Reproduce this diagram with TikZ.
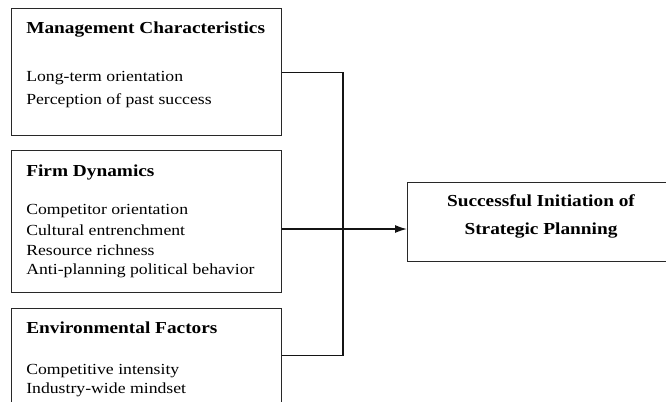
\documentclass[tikz,border=0pt]{standalone}
\usepackage{fontspec}
\setmainfont{Liberation Serif}[FakeStretch=1.15]
\usetikzlibrary{arrows.meta}
\begin{document}
\begin{tikzpicture}[x=0.75pt,y=0.75pt,yscale=-1,xscale=1,
	box/.style={draw={rgb, 255:red, 40; green, 40; blue, 40 },line width=1.1pt,anchor=north west,inner sep=0pt},
	head/.style={anchor=base west,inner sep=0.75pt,font=\fontsize{12.6}{14}\selectfont\bfseries},
	item/.style={anchor=base west,inner sep=0.75pt,font=\fontsize{11.55}{13}\selectfont},
	link/.style={draw={rgb, 255:red, 20; green, 20; blue, 20 },line width=1.1pt}]
	\useasboundingbox (0,0) rectangle (666,401);
	
	%Shape: Rectangle [id:mgmt] 
	\node [box,minimum width=270*0.75pt,minimum height=127*0.75pt] (mgmt) at (11,8) {};
	%Shape: Rectangle [id:firm] 
	\node [box,minimum width=270*0.75pt,minimum height=142*0.75pt] (firm) at (11,150) {};
	%Shape: Rectangle [id:env] 
	\node [box,minimum width=270*0.75pt,minimum height=94*0.75pt] (env) at (11,308) {};
	%Shape: Rectangle [id:goal] 
	\node [box,minimum width=262*0.75pt,minimum height=79*0.75pt] (goal) at (407,182) {};
	
	%Straight Lines [id:join] 
	\coordinate (join) at (343,229);
	\draw [link] (mgmt.east) -- (mgmt.east -| join) |- (env.east) ;
	\draw [link,-{Latex[length=9pt,width=6pt]}] (firm.east |- join) -- (goal.west |- join) ;
	
	% Text Node
	\draw (25,33) node [head] (mgmtT) {Management Characteristics};
	% Text Node
	\draw (25,81) node [item] (mgmtA) {Long-term orientation};
	% Text Node
	\draw (25,104) node [item] (mgmtB) {Perception of past success};
	% Text Node
	\draw (25,176) node [head] (firmT) {Firm Dynamics};
	% Text Node
	\draw (25,214) node [item] (firmA) {Competitor orientation};
	% Text Node
	\draw (25,235) node [item] (firmB) {Cultural entrenchment};
	% Text Node
	\draw (25,255) node [item] (firmC) {Resource richness};
	% Text Node
	\draw (25,274) node [item] (firmD) {Anti-planning political behavior};
	% Text Node
	\draw (25,333) node [head] (envT) {Environmental Factors};
	% Text Node
	\draw (25,374) node [item] (envA) {Competitive intensity};
	% Text Node
	\draw (25,393) node [item] (envB) {Industry-wide mindset};
	% Text Node
	\draw (541,206) node [head,anchor=base] (goalA) {Successful Initiation of};
	% Text Node
	\draw (541,234) node [head,anchor=base] (goalB) {Strategic Planning};
	
\end{tikzpicture}
\end{document}
